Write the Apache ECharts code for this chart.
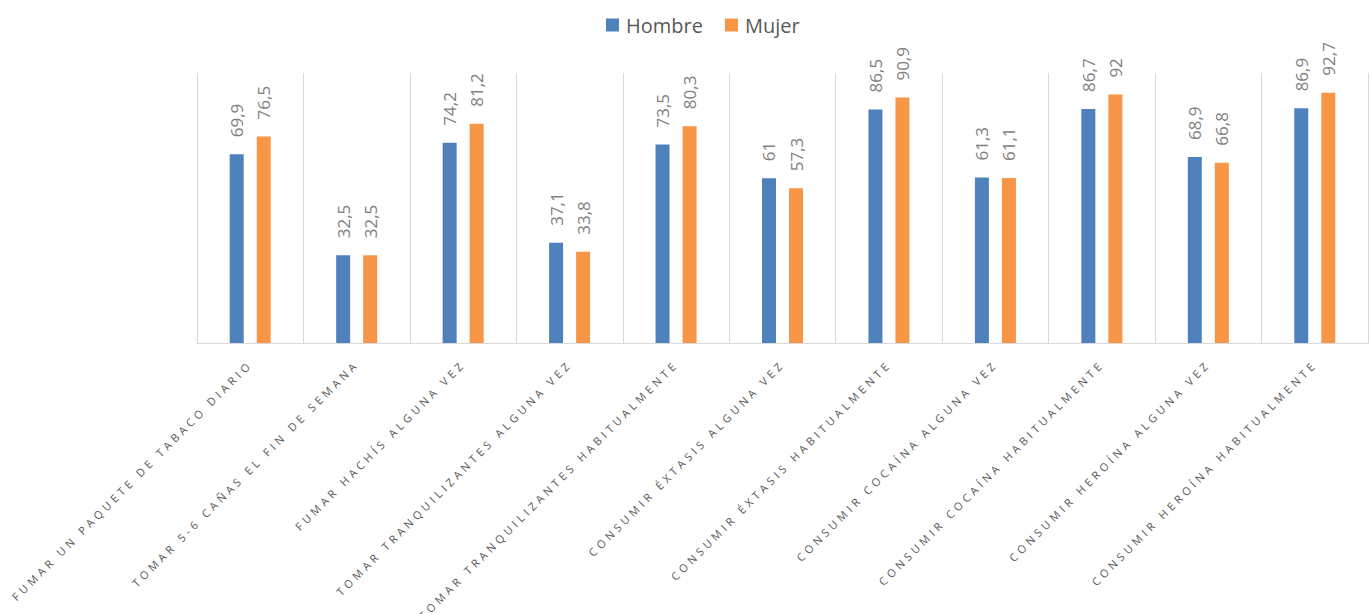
<!DOCTYPE html>
<html>
<head>
<meta charset="utf-8">
<script src="https://cdn.jsdelivr.net/npm/echarts@6/dist/echarts.min.js"></script>
<style>
html,body{margin:0;padding:0;background:#fff;}
#chart{width:1370px;height:614px;}
#chart svg text[style*="11px"]{letter-spacing:3.8px;}
</style>
</head>
<body>
<div id="chart"></div>
<script>
const categories = [
  'FUMAR UN PAQUETE DE TABACO DIARIO',
  'TOMAR 5-6 CAÑAS EL FIN DE SEMANA',
  'FUMAR HACHÍS ALGUNA VEZ',
  'TOMAR TRANQUILIZANTES ALGUNA VEZ',
  'TOMAR TRANQUILIZANTES HABITUALMENTE',
  'CONSUMIR ÉXTASIS ALGUNA VEZ',
  'CONSUMIR ÉXTASIS HABITUALMENTE',
  'CONSUMIR COCAÍNA ALGUNA VEZ',
  'CONSUMIR COCAÍNA HABITUALMENTE',
  'CONSUMIR HEROÍNA ALGUNA VEZ',
  'CONSUMIR HEROÍNA HABITUALMENTE'
];
const hombre = [69.9, 32.5, 74.2, 37.1, 73.5, 61, 86.5, 61.3, 86.7, 68.9, 86.9];
const mujer  = [76.5, 32.5, 81.2, 33.8, 80.3, 57.3, 90.9, 61.1, 92, 66.8, 92.7];
const seriesNames = ['Hombre', 'Mujer'];

const chart = echarts.init(document.getElementById('chart'), null, {renderer: 'svg'});
const labelCfg = {
  show: true,
  position: 'top',
  rotate: 90,
  align: 'left',
  verticalAlign: 'middle',
  distance: 17,
  color: '#808080',
  fontSize: 17,
  fontFamily: 'Open Sans',
  formatter: p => String(p.value).replace('.', ',')
};
chart.setOption({
  animation: false,
  legend: {
    data: seriesNames,
    left: 601,
    top: 10,
    itemWidth: 13,
    itemHeight: 13,
    itemGap: 22,
    icon: 'rect',
    textStyle: {color: '#595959', fontSize: 20, fontFamily: 'Open Sans', padding: [0, 0, 0, 2]}
  },
  grid: {left: 197, right: 2, top: 73, bottom: 271, containLabel: false},
  xAxis: {
    type: 'category',
    data: categories,
    axisTick: {show: false},
    axisLine: {lineStyle: {color: '#d9d9d9', width: 1}},
    splitLine: {show: true, lineStyle: {color: '#d9d9d9', width: 1}},
    axisLabel: {
      interval: 0,
      rotate: 45,
      margin: 19,
      color: '#595959',
      fontSize: 11,
      fontFamily: 'Open Sans'
    }
  },
  yAxis: {
    type: 'value',
    min: 0,
    max: 100,
    show: false,
    splitLine: {show: false}
  },
  series: [
    {name: seriesNames[0], type: 'bar', data: hombre, barWidth: 14, barGap: '93%',
     itemStyle: {color: '#4f81bd'}, label: labelCfg},
    {name: seriesNames[1], type: 'bar', data: mujer, barWidth: 14, barGap: '93%',
     itemStyle: {color: '#f79646'}, label: labelCfg}
  ]
});
</script>
</body>
</html>
